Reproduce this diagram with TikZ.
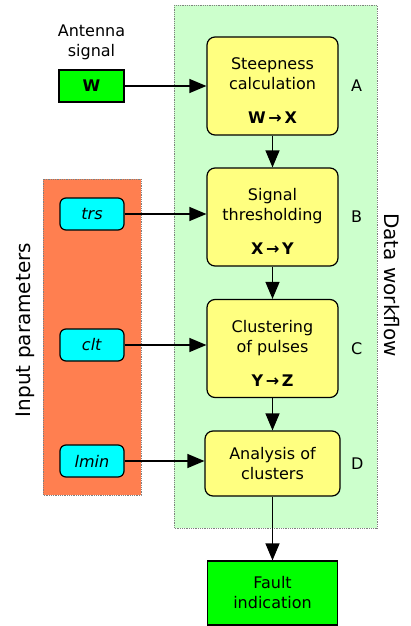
\documentclass[tikz,border=0pt]{standalone}
\usepackage{fontspec}
\setmainfont{DejaVu Sans}
\usetikzlibrary{positioning,arrows.meta}
\definecolor{flowgreen}{RGB}{204,255,204}
\definecolor{paramred}{RGB}{255,127,80}
\definecolor{stageyellow}{RGB}{255,255,128}
\definecolor{paramcyan}{RGB}{0,255,255}
\definecolor{signalgreen}{RGB}{0,255,0}

\begin{document}
\begin{tikzpicture}[x=1pt,y=-1pt,
  every node/.style={font=\fontsize{16}{20}\selectfont},
  region/.style={draw=gray,densely dotted,line width=0.8pt},
  stage/.style={draw,line width=1.2pt,rounded corners=8pt,fill=stageyellow,
    minimum width=131pt,minimum height=98pt,align=center,inner sep=0pt},
  param/.style={draw,line width=1.2pt,rounded corners=6pt,fill=paramcyan,
    minimum width=64pt,minimum height=32pt,inner sep=0pt},
  signal/.style={draw,line width=1.2pt,fill=signalgreen,align=center,inner sep=0pt},
  flow/.style={line width=1.2pt,-{Triangle[length=17pt,width=14pt]}}]
 \useasboundingbox (0,0) rectangle (410,626);
 \fill[flowgreen] (174,5) rectangle (377,528);
 \draw[region] (174,5) rectangle (377,528);
 \fill[paramred] (43,179) rectangle (141,495);
 \draw[region] (43,179) rectangle (141,495);
 \node[font=\fontsize{20}{24}\selectfont,rotate=90] at (25,330) (inlabel) {Input parameters};
 \node[font=\fontsize{20}{24}\selectfont,rotate=-90] at (392,285) (flowlabel) {Data workflow};

 \node[signal,minimum width=65pt,minimum height=32pt] at (91.5,86) (W) {\textbf{W}};
 \node[align=center,above=6pt of W] (antenna) {Antenna\\signal};
 \node[param] at (92,214) (trs) {\textit{trs}};
 \node[param] at (92,345) (clt) {\textit{clt}};
 \node[param] at (92,461) (lmin) {\textit{lmin}};

 \node[stage] at (272.5,86) (stA) {\mbox{}\\[1pt]Steepness\\calculation\\[14pt]\textbf{W\,→\,X}};
 \node[stage] at (272.5,217) (stB) {\mbox{}\\[1pt]Signal\\thresholding\\[14pt]\textbf{X\,→\,Y}};
 \node[stage] at (272.5,348.5) (stC) {\mbox{}\\[1pt]Clustering\\of pulses\\[14pt]\textbf{Y\,→\,Z}};
 \node[stage,minimum width=135pt,minimum height=65pt] at (272.5,463.5) (stD) {Analysis of\\clusters};
 \node[signal,minimum width=130pt,minimum height=64pt] at (272.5,593) (fault) {Fault\\indication};

 \node[right=9pt of stA] (labA) {A};
 \node[right=9pt of stB] (labB) {B};
 \node[right=9pt of stC] (labC) {C};
 \node[right=7pt of stD] (labD) {D};

 \draw[flow] (W) -- (stA);
 \draw[flow] (trs) -- (trs -| stB.west);
 \draw[flow] (clt) -- (clt -| stC.west);
 \draw[flow] (lmin) -- (lmin -| stD.west);
 \draw[flow] (stA) -- (stB);
 \draw[flow] (stB) -- (stC);
 \draw[flow] (stC) -- (stD);
 \draw[flow] (stD) -- (fault);
\end{tikzpicture}
\end{document}
